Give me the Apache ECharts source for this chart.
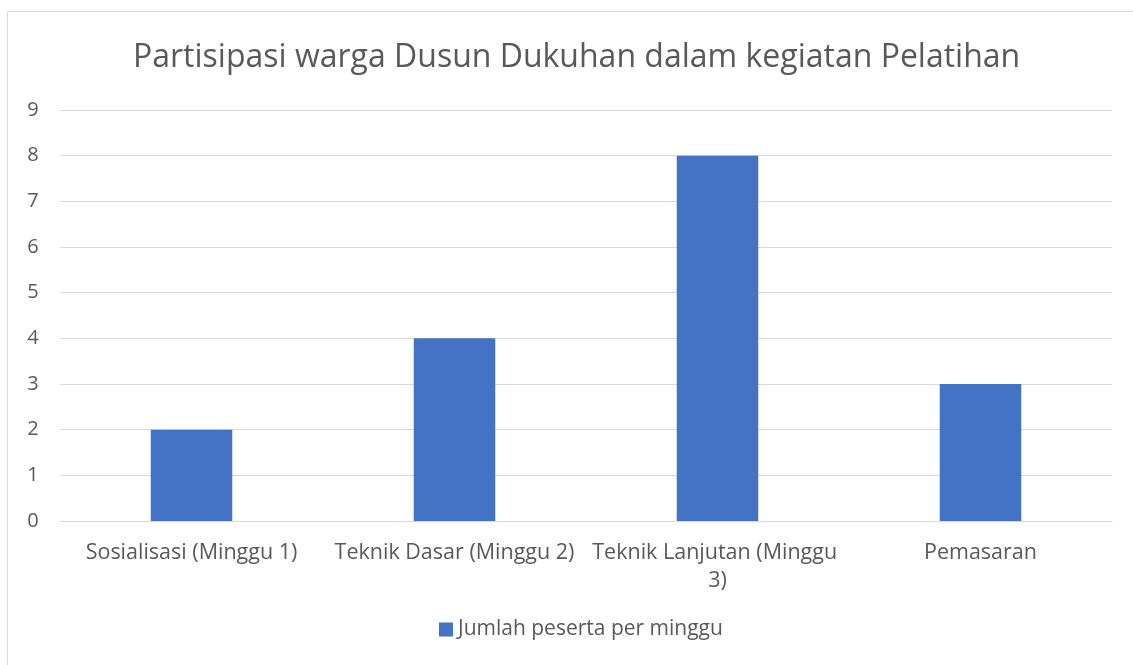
<!DOCTYPE html>
<html>
<head>
<meta charset="utf-8">
<script src="https://cdn.jsdelivr.net/npm/echarts@6/dist/echarts.min.js"></script>
<style>
  html, body { margin: 0; padding: 0; background: #fff; }
  #chart { width: 1133px; height: 665px; }
</style>
</head>
<body>
<div id="chart"></div>
<script>
const categories = ['Sosialisasi (Minggu 1)', 'Teknik Dasar (Minggu 2)', 'Teknik Lanjutan (Minggu 3)', 'Pemasaran'];
const pesertaValues = [2, 4, 8, 3];
const yTicks = { min: 0, max: 9, interval: 1 };
const seriesName = 'Jumlah peserta per minggu';

const chart = echarts.init(document.getElementById('chart'));
const fontFamily = 'Open Sans, Noto Sans, sans-serif';

const option = {
  animation: false,
  textStyle: { fontFamily },
  graphic: [{
    type: 'rect',
    shape: { x: 7.5, y: 11.5, width: 1200, height: 700 },
    style: { fill: null, stroke: '#d9d9d9', lineWidth: 1 },
    silent: true
  }],
  title: {
    text: 'Partisipasi warga Dusun Dukuhan dalam kegiatan Pelatihan',
    left: 128,
    top: 37,
    textStyle: { fontSize: 32, fontWeight: 'normal', color: '#595959', fontFamily }
  },
  legend: {
    bottom: 20,
    left: 434,
    icon: 'rect',
    itemWidth: 14,
    itemHeight: 14,
    itemGap: 4,
    textStyle: { fontSize: 21, color: '#595959', fontFamily },
    data: [seriesName]
  },
  grid: { left: 60, right: 21, top: 110, bottom: 144, containLabel: false },
  xAxis: {
    type: 'category',
    data: categories,
    axisLine: { lineStyle: { color: '#d9d9d9', width: 1 } },
    axisTick: { show: false },
    axisLabel: {
      color: '#595959',
      fontSize: 21.5,
      margin: 18,
      width: 252,
      overflow: 'break',
      lineHeight: 28,
      interval: 0
    }
  },
  yAxis: {
    type: 'value',
    min: yTicks.min,
    max: yTicks.max,
    interval: yTicks.interval,
    axisLine: { show: false },
    axisTick: { show: false },
    splitLine: { lineStyle: { color: '#d9d9d9', width: 1 } },
    axisLabel: { color: '#595959', fontSize: 20, margin: 27, align: 'center' }
  },
  series: [{
    name: seriesName,
    type: 'bar',
    data: pesertaValues,
    barWidth: '31%',
    itemStyle: { color: '#4472c4' }
  }]
};

chart.setOption(option);
</script>
</body>
</html>
